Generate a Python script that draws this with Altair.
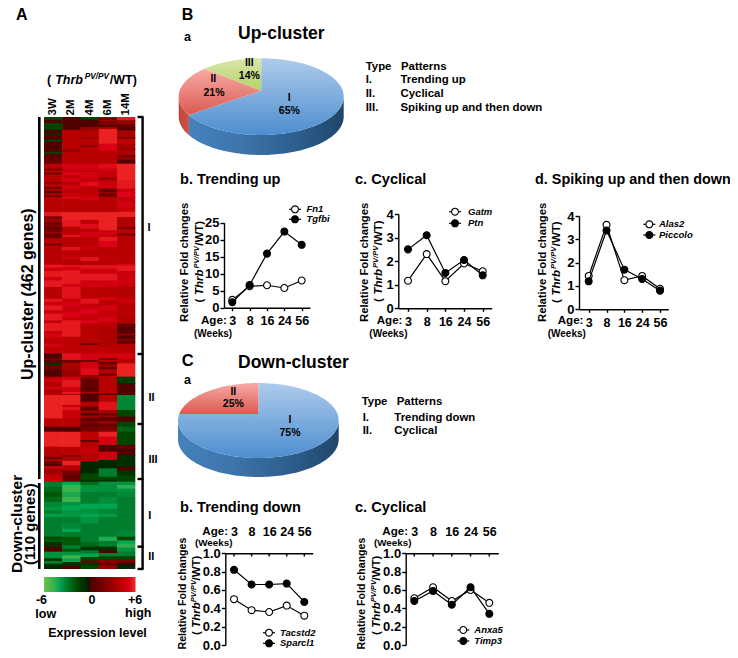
import json, math
import altair as alt
import pandas as pd

# ---------- data ----------
COLUMNS = ["3W", "2M", "4M", "6M", "14M"]
AGES = ["3", "8", "16", "24", "56"]
R3W_ENDS = [8,18,36,40,50,56,68,74,104,110,122,140,155,160,167,172,196,199,210,214,222,228,236,240,285,298,304,316,322,330,336,344,350,358,364,380,385,440,444,452,462,480,490,510,545,555,565,580,590,610,618,630,642,650,660,668,680,690,700,709,725,730,733,738,745,757,779,787,794,810,818,826,834,904,929,944,989,1019,1027,1032,1040,1047,1055,1070,1078,1094,1109,1125,1140,1155,1170,1180,1190,1200,1219,1259,1265,1275,1289,1304,1324,1332,1340,1348,1356]
R3W_VALS = [-1.5,0,-1.5,-1,0,-1,0,-1.5,0,-1.5,0.5,1,4,1.5,4,1,4,1,4,1,3,1,3,1,4,5.6,1.5,3,1,2,1,1.5,3,1,1.5,4,1.5,4,5,5.6,4.8,5.6,4.8,5.6,4,5.5,4.8,5.6,4.5,5.6,4.5,5.6,5.6,4.5,5.2,4.5,4.2,5,4.2,4.5,0,2,0,1,-1,1.5,0,4,5,4,5,3.5,4,5.8,4,0,5.8,4,1.5,4,1.5,0,4.5,3,4.2,4.5,-3,-2.5,-2,-2.5,-3.2,-3.6,-3,-3.8,-3,-3,-1.5,-2,-1,0,-3.5,-1,-3,-1,-0.5]
R2M_ENDS = [38,98,104,140,160,165,175,182,195,205,215,228,240,244,285,309,329,346,354,360,390,400,420,425,444,450,460,500,510,545,555,570,585,600,610,625,659,684,709,729,739,744,757,779,789,810,825,832,834,864,870,880,904,929,944,989,1014,1019,1031,1045,1060,1074,1082,1094,1104,1125,1140,1155,1165,1180,1200,1219,1235,1245,1259,1285,1295,1304,1315,1325,1335,1345,1356]
R2M_VALS = [0,4,2.5,4,5,4,5.3,4.2,5,4,5,4.3,4.6,5.5,4,5.8,5.6,4,4.5,5.5,4,5.5,4.2,5,4,5.5,5,5.6,5,5.5,4.5,5,4.5,5.2,4.5,5.6,5.6,4.2,4.2,5.5,1.5,4,3.5,3,5,5.6,4.8,5.6,2,5.8,4.5,5.5,4.6,4,0,5.8,4,2,3.5,5.8,4,1.5,0.5,1,-4,-4.8,-4.2,-4.8,-3.5,-4,-3.6,-3,-3.3,-4,-3,-2,-3,-2,-3.5,-4.8,-4,-1,0]
R4M_ENDS = [8,30,40,60,65,86,89,100,140,160,165,180,195,208,230,240,250,285,309,320,335,345,360,385,400,420,432,444,455,470,490,500,510,545,560,575,590,610,620,628,679,684,709,729,735,754,774,784,809,824,829,834,854,869,880,888,896,904,912,920,929,944,969,975,989,1009,1034,1069,1089,1094,1104,1125,1140,1160,1175,1190,1200,1219,1259,1275,1289,1300,1310,1320,1330,1336,1345,1356]
R4M_VALS = [-1.5,0,3,4,3,4,0.8,4,4,5,4,5,4.6,5.4,4.2,4.5,5,4,5.8,4,5.4,4.2,5,4,4.5,4,5.5,4,5.5,4.8,5.6,4.8,5,4.2,5.5,4.5,5.3,4.5,5.3,4,4,1,4.2,5,1.5,5,5.4,3,1,0.5,4,0,0,4,0.5,3,0.5,3,0.5,2,0.8,1.5,4.2,1,4,4.5,4,-0.5,-1.5,-1,-2.5,-3.5,-3,-3,-4,-3.5,-4,-3.5,-3,-3,-2.5,-1,-3,-4,-1.5,1.5,-1,-1.5]
R6M_ENDS = [4,8,14,18,22,30,34,36,80,100,104,122,140,155,165,180,190,200,215,225,230,236,240,285,340,345,352,360,372,390,405,430,444,455,470,490,510,520,540,550,565,580,600,615,630,689,709,724,729,735,742,750,757,770,776,790,829,834,854,879,889,895,900,912,920,929,944,959,984,1004,1029,1054,1079,1089,1094,1104,1125,1140,1160,1175,1190,1200,1219,1259,1272,1289,1300,1308,1318,1328,1336,1345,1356]
R6M_VALS = [3,0.5,3,0.5,3,0.5,3,4,5.8,5.2,4.5,4.2,4,5.4,4.8,4.5,3,4.5,4.8,1,3,1,2,4,5.8,4.5,5,4.5,5.6,5.3,4,4.2,4,5.5,4.8,5.6,5,4.2,4,5,4,5,4.4,5.1,4.2,3.7,4.2,5,1,4,1,3,1,4,1,4,4,0.5,4,5.5,3.5,1,3,1,3,1,2,5.8,5,0,4.8,-0.5,-3,-1.5,-1,-3.5,-3.4,-3,-3.4,-4,-3.2,-3.7,-3,-3,-4.3,-3,-1,0,-3,-1.5,2.5,1,3]
R14M_ENDS = [10,12,22,30,36,40,60,65,80,95,97,115,120,128,134,140,190,215,225,240,255,272,284,300,330,336,350,355,440,445,462,470,500,510,530,545,560,600,620,625,631,639,650,655,665,672,680,709,725,739,779,799,819,834,879,899,914,929,944,984,994,1014,1049,1060,1075,1094,1104,1115,1125,1140,1219,1240,1259,1270,1280,1292,1304,1318,1328,1336,1342,1356]
R14M_VALS = [5.6,1.5,3,1,0.5,0,3.5,1.5,4.3,3.5,1.5,3.7,1,3,0.5,0.3,5.8,5.6,4.7,5.3,4.5,5,4.6,5.8,3.8,1.5,4,1,4,5.3,5.6,4.6,4.8,4.5,3.8,4,4.5,4,3.8,0.5,1,0.3,0.5,3,0.3,2,0.5,4,5,4,5.8,-1.2,0,0.3,-3.2,-1.5,0,-1.5,-2.3,-1.5,1,0,-0.8,0,-1,-1.5,-3.5,-4.5,-3.5,-3.3,-3,-3,-3.2,-1.5,-4,-4.5,-3.5,-3,-1.5,2,0,-0.5]
LEFT_BAR_STARTS = [0, 1098]
LEFT_BAR_ENDS = [1086, 1356]
RIGHT_TICKS = [0, 711, 921, 1086, 1289, 1356]
UP_SHARES = [65, 21, 14]
DOWN_SHARES = [75, 25]
Fn1 = [2.3, 6.3, 6.6, 5.8, 8.0]
Tgfbi = [1.6, 6.7, 15.9, 22.4, 18.5]
Gatm = [1.17, 2.3, 1.15, 1.9, 1.57]
Ptn = [2.5, 3.1, 1.5, 2.05, 1.4]
Alas2 = [1.43, 3.62, 1.25, 1.43, 0.88]
Piccolo = [1.2, 3.38, 1.7, 1.3, 0.8]
Tacstd2 = [0.5, 0.38, 0.36, 0.43, 0.32]
Sparcl1 = [0.82, 0.66, 0.66, 0.67, 0.47]
Anxa5 = [0.51, 0.63, 0.48, 0.6, 0.46]
Timp3 = [0.48, 0.59, 0.44, 0.63, 0.34]

# ---------- helpers ----------
FONT = "Liberation Sans"
W, H = 722, 642
layers = []
ONE = alt.Data(values=[{"k": 1}])

def txt(s, x, y, size=11.5, weight="bold", style="normal", align="left", angle=0, baseline="middle"):
    layers.append(alt.Chart(ONE).mark_text(
        text=s, font=FONT, fontSize=size, fontWeight=weight, fontStyle=style,
        align=align, baseline=baseline, angle=angle, color="black"
    ).encode(x=alt.value(x - 8), y=alt.value(y - 8)))

def thrb(x, y, size=12, up=True, widen=1.0):
    pieces = [("( ", size, "normal", 0), ("Thrb", size, "italic", 0),
              ("PV/PV", size * 0.66, "italic", size * 0.26), ("/WT)", size, "normal", 0)]
    adv = [0.62, 2.22, 1.9, 2.17]
    pos = 0.0
    for (s, sz, st, lift), a in zip(pieces, adv):
        if up:
            txt(s, x - lift, y - pos, sz, style=st, angle=270)
        else:
            txt(s, x + pos, y - lift, sz, style=st)
        pos += a * size * widen

# ---------- heat map ----------
cols = [(R3W_ENDS, R3W_VALS), (R2M_ENDS, R2M_VALS), (R4M_ENDS, R4M_VALS), (R6M_ENDS, R6M_VALS), (R14M_ENDS, R14M_VALS)]
rows = []
for c, (ends, vals) in enumerate(cols):
    assert len(ends) == len(vals), (c, len(ends), len(vals))
    prev = 0
    for e, v in zip(ends, vals):
        rows.append({"c0": c, "c1": min(c + 1.03, 5), "r0": prev, "r1": min(e + 2, 1356), "v": v})
        prev = e
heat = pd.DataFrame(rows)
HX0, HX1, HY0, HY1 = 44, 135.3, 117, 569
hx = alt.Scale(domain=[0, 5], range=[HX0 - 8, HX1 - 8], nice=False, zero=False)
hy = alt.Scale(domain=[0, 1356], range=[HY0 - 8, HY1 - 8], nice=False, zero=False)
color_scale = alt.Scale(domain=[-6, -4, 0, 6], range=["#6cc04a", "#00a651", "#000000", "#f02a26"])
layers.append(alt.Chart(heat).mark_rect(strokeWidth=0).encode(
    x=alt.X("c0:Q", scale=hx, axis=None), x2="c1:Q",
    y=alt.Y("r0:Q", scale=hy, axis=None), y2="r1:Q",
    color=alt.Color("v:Q", scale=color_scale, legend=None)))

# colour bar
levels = [-6 + 0.125 * i for i in range(96)]
bar = pd.DataFrame({"lo": levels, "hi": [min(l + 0.25, 6) for l in levels], "mid": [l + 0.0625 for l in levels]})
layers.append(alt.Chart(bar).mark_rect(strokeWidth=0).encode(
    x=alt.X("lo:Q", scale=alt.Scale(domain=[-6, 6], range=[HX0 - 8, HX1 - 8], nice=False, zero=False), axis=None),
    x2="hi:Q", y=alt.value(577 - 8), y2=alt.value(592 - 8),
    color=alt.Color("mid:Q", scale=color_scale, legend=None)))

# brackets
lb = pd.DataFrame({"a": LEFT_BAR_STARTS, "b": LEFT_BAR_ENDS})
layers.append(alt.Chart(lb).mark_rule(strokeWidth=2.6, color="black").encode(
    x=alt.value(39.3 - 8), y=alt.Y("a:Q", scale=hy, axis=None), y2="b:Q"))
rb = pd.DataFrame({"a": [RIGHT_TICKS[0]], "b": [RIGHT_TICKS[-1]]})
layers.append(alt.Chart(rb).mark_rule(strokeWidth=2.4, color="black").encode(
    x=alt.value(142.6 - 8), y=alt.Y("a:Q", scale=hy, axis=None), y2="b:Q"))
rt = pd.DataFrame({"a": RIGHT_TICKS})
layers.append(alt.Chart(rt).mark_rule(strokeWidth=2.4, color="black").encode(
    x=alt.value(137.5 - 8), x2=alt.value(143.5 - 8), y=alt.Y("a:Q", scale=hy, axis=None)))

# ---------- pies ----------
def grad_v(c0, c1):
    return alt.Gradient(gradient="linear", x1=0, x2=0, y1=0, y2=1,
                        stops=[alt.GradientStop(offset=0, color=c0), alt.GradientStop(offset=1, color=c1)])

def grad_h(stops):
    return alt.Gradient(gradient="linear", x1=0, x2=1, y1=0, y2=0,
                        stops=[alt.GradientStop(offset=o, color=c) for o, c in stops])

def pie(shares, fills, sides, x0, x1, top, low, apex_y, depth):
    """Slices seen in perspective: rays leave the apex and end on the rim ellipse."""
    ry = (low - top) / 2
    cy = (top + low) / 2
    ay = apex_y - cy
    sx = alt.Scale(domain=[-1, 1], range=[x0 - 8, x1 - 8], nice=False, zero=False)
    sy = alt.Scale(domain=[-ry, ry + depth], range=[top - 8, low + depth - 8], nice=False, zero=False)

    def rim(deg):
        t = math.radians(deg)
        dx, dy = math.sin(t), -math.cos(t) * ry
        a = dx * dx + (dy / ry) ** 2
        b = 2 * ay * dy / ry ** 2
        c = (ay / ry) ** 2 - 1
        k = (-b + math.sqrt(b * b - 4 * a * c)) / (2 * a)
        return dx * k, ay + dy * k

    def param(p):
        return math.degrees(math.atan2(p[0], -p[1] / ry)) % 360

    def ell(deg):
        t = math.radians(deg)
        return math.sin(t), -math.cos(t) * ry

    def draw(points, fill):
        d = pd.DataFrame({"i": range(len(points)), "x": [p[0] for p in points], "y": [p[1] for p in points]})
        layers.append(alt.Chart(d).mark_line(fill=fill, strokeWidth=0, strokeOpacity=0, interpolate="linear").encode(
            x=alt.X("x:Q", scale=sx, axis=None), y=alt.Y("y:Q", scale=sy, axis=None), order="i:Q"))

    cum = 0
    spans = []
    for s in shares:
        spans.append((cum * 3.6, (cum + s) * 3.6))
        cum += s
    for (a, b), side in zip(spans, sides):
        if side is None:
            continue
        pa = param(rim(a)) if a > 0 else 0.0
        pb = param(rim(b)) if b < 360 else 360.0
        lo, hi = max(pa, 90), min(pb, 270)
        if hi <= lo:
            continue
        n = int((hi - lo) / 2) + 1
        edge = [ell(lo + (hi - lo) * k / n) for k in range(n + 1)]
        draw(edge + [(x, y + depth) for x, y in reversed(edge)], side)
    for (a, b), fill in zip(spans, fills):
        n = int((b - a) / 2) + 1
        draw([(0, ay)] + [rim(a + (b - a) * k / n) for k in range(n + 1)], fill)

BLUE_TOP = grad_v("#aecbeb", "#4d8ecf")
BLUE_SIDE = grad_h([(0, "#4681bd"), (0.35, "#3d74ab"), (0.75, "#2a5a88"), (1, "#1f4669")])
RED_TOP = grad_v("#f7a9a6", "#db5a50")
RED_SIDE = grad_h([(0, "#c0473b"), (1, "#cc5045")])
GREEN_TOP = grad_v("#d9e7a8", "#b4d068")
pie(UP_SHARES, [BLUE_TOP, RED_TOP, GREEN_TOP], [BLUE_SIDE, RED_SIDE, None], 178.7, 343.7, 58.3, 135, 90.7, 20)
pie(DOWN_SHARES, [BLUE_TOP, RED_TOP], [BLUE_SIDE, None], 178, 338.7, 383, 458, 414, 19)

# ---------- line panels ----------
def panel(s1, s2, xa, xe, c0, c4, yb, yt, ymax, yvals, fmt, top_axis=False, ylabel=13, xlabel=12.5):
    step = (c4 - c0) / 4
    sx = alt.Scale(domain=[(xa - c0) / step, (xe - c0) / step], range=[xa - 8, xe - 8], nice=False, zero=False)
    sy = alt.Scale(domain=[0, ymax], range=[yb - 8, yt - 8], nice=False, zero=False)
    common = dict(grid=False, title=None, domainColor="black", domainWidth=1.4, tickColor="black", tickWidth=1.4,
                  labelColor="black", labelFont=FONT, labelFontWeight="bold")
    expr = json.dumps(AGES) + "[datum.value]"
    if top_axis:
        ax_x = alt.Axis(orient="top", offset=-(yt - 8), values=list(range(5)), labelExpr=expr, tickSize=0,
                        labelPadding=15, labelFontSize=xlabel, labelAngle=0, **common)
    else:
        ax_x = alt.Axis(orient="bottom", offset=yb - 8 - H, values=list(range(5)), labelExpr=expr, tickSize=3,
                        labelPadding=4, labelFontSize=xlabel, labelAngle=0, **common)
    ax_y = alt.Axis(orient="left", offset=-(xa - 8), values=yvals, format=fmt, tickSize=4, labelPadding=1,
                    labelFontSize=ylabel, **common)
    for n, (s, fill) in enumerate(zip((s1, s2), ("white", "black"))):
        d = pd.DataFrame({"a": range(5), "v": s})
        layers.append(alt.Chart(d).mark_line(color="black", strokeWidth=1.2).encode(
            x=alt.X("a:Q", scale=sx, axis=ax_x if n == 0 else None),
            y=alt.Y("v:Q", scale=sy, axis=ax_y if n == 0 else None)))
        layers.append(alt.Chart(d).mark_point(filled=True, fill=fill, stroke="black", strokeWidth=1.1, size=48, opacity=1).encode(
            x=alt.X("a:Q", scale=sx, axis=None), y=alt.Y("v:Q", scale=sy, axis=None)))
    if top_axis:
        d = pd.DataFrame({"a": range(5), "u": [ymax] * 5, "w": [ymax * 0.965] * 5})
        layers.append(alt.Chart(d).mark_rule(color="black", strokeWidth=1.4).encode(
            x=alt.X("a:Q", scale=sx, axis=None), y=alt.Y("u:Q", scale=sy, axis=None), y2="w:Q"))

def legend(names, mx, ys, tx):
    for name, y, fill in zip(names, ys, ("white", "black")):
        layers.append(alt.Chart(ONE).mark_rule(color="black", strokeWidth=1.2).encode(
            x=alt.value(mx - 6 - 8), x2=alt.value(mx + 6 - 8), y=alt.value(y - 8)))
        layers.append(alt.Chart(ONE).mark_point(filled=True, fill=fill, stroke="black", strokeWidth=1.1, size=48, opacity=1).encode(
            x=alt.value(mx - 8), y=alt.value(y - 8)))
        txt(name, tx, y, 9.5, style="italic")

panel(Fn1, Tgfbi, 224, 310, 232.3, 301.7, 307.7, 222.7, 25, [0, 5, 10, 15, 20, 25], "d")
panel(Gatm, Ptn, 398.3, 491.7, 408, 482.7, 308.3, 214, 4, [0, 1, 2, 3, 4], "d")
panel(Alas2, Piccolo, 579, 668.3, 588.7, 660, 309.3, 216, 4, [0, 1, 2, 3, 4], "d")
panel(Tacstd2, Sparcl1, 225.3, 312.7, 234, 304.3, 645, 553.3, 1, [0, .2, .4, .6, .8, 1], ".1f", top_axis=True)
panel(Anxa5, Timp3, 405.7, 498.3, 414.3, 489.3, 645, 553.3, 1, [0, .2, .4, .6, .8, 1], ".1f", top_axis=True)
legend(["Fn1", "Tgfbi"], 295, [209.3, 219.3], 306.5)
legend(["Gatm", "Ptn"], 455, [211.7, 223.3], 468)
legend(["Alas2", "Piccolo"], 649.3, [224.3, 235], 659)
legend(["Tacstd2", "Sparcl1"], 269, [632.7, 643.3], 280)
legend(["Anxa5", "Timp3"], 463.3, [630, 641], 474.3)

# ---------- text: panel A ----------
txt("A", 16, 20, 16, baseline="alphabetic")
thrb(47, 80, 12.5, up=False, widen=1.06)
for name, c in zip(COLUMNS, range(5)):
    txt(name, HX0 + (HX1 - HX0) * (c + 0.5) / 5, 115.5, 11.5, angle=270)
txt("Up-cluster (462 genes)", 28, 380, 16, angle=270)
txt("Down-cluster", 16.5, 573, 15.5, angle=270)
txt("(110 genes)", 30, 565, 15, angle=270)
for s, x, y in [("I", 149, 228), ("II", 151.5, 398), ("III", 153, 460), ("I", 149.7, 516), ("II", 151.3, 557)]:
    txt(s, x, y, 11, align="center")
for s, x, y in [("-6", 41.5, 600), ("0", 92, 600), ("+6", 135, 600), ("low", 45.7, 614), ("high", 138.3, 613)]:
    txt(s, x, y, 12.5, align="center")
txt("Expression level", 97.5, 632.7, 12.5, align="center")

# ---------- text: panel B ----------
txt("B", 181.7, 20, 16, baseline="alphabetic")
txt("a", 184, 36.7, 12.5)
txt("Up-cluster", 238, 34, 17.5)
for s, x, y in [("Type", 365.7, 66.7), ("Patterns", 401, 66.7), ("I.", 365.7, 80.3), ("Trending up", 400.5, 80.3),
                ("II.", 365.7, 94), ("Cyclical", 400.5, 94), ("III.", 365.7, 107.7), ("Spiking up and then down", 400.5, 107.7)]:
    txt(s, x, y, 11.4)
for s, x, y in [("I", 289.3, 98.3), ("65%", 289.3, 111), ("II", 213.3, 79.3), ("21%", 214, 92.7), ("III", 249.3, 62.7), ("14%", 249.3, 75.7)]:
    txt(s, x, y, 10.5, align="center")
txt("b. Trending up", 180, 180, 14.6)
txt("c. Cyclical", 355, 180, 14.6)
txt("d. Spiking up and then down", 535, 180, 14.4)
for x1, x2, sp in [(185, 200, 302.5), (365, 379, 302), (543, 556.7, 303)]:
    txt("Relative Fold changes", x1, 322, 11.3, angle=270)
    thrb(x2, sp, 11.5, widen=1.04)
for ax, wx in [(201, 194), (376.7, 369.3), (557.7, 547.7)]:
    txt("Age:", ax, 321.3, 11.6)
    txt("(Weeks)", wx, 333.7, 10)

# ---------- text: panel C ----------
txt("C", 181.7, 366, 16.5, baseline="alphabetic")
txt("a", 184, 380, 12.5)
txt("Down-cluster", 238, 363, 17.5)
for s, x, y in [("Type", 361.7, 402.3), ("Patterns", 396.7, 402.3), ("I.", 362.7, 417.7), ("Trending down", 394.3, 417.7),
                ("II.", 362.7, 431), ("Cyclical", 394.3, 431)]:
    txt(s, x, y, 11.4)
for s, x, y in [("II", 233.3, 391.7), ("25%", 233.3, 404.3), ("I", 290, 420), ("75%", 290, 432.7)]:
    txt(s, x, y, 10.5, align="center")
txt("b. Trending down", 180, 508.3, 14.6)
txt("c. Cyclical", 355, 508.3, 14.6)
for x1, x2 in [(182.7, 197.3), (362.3, 376.7)]:
    txt("Relative Fold changes", x1, 649.5, 10.6, angle=270)
    thrb(x2, 635, 11.5, widen=1.0)
for ax, wx in [(202.3, 195), (382.3, 374)]:
    txt("Age:", ax, 531.5, 11.6)
    txt("(Weeks)", wx, 543, 9.8)

chart = alt.layer(*layers).resolve_scale(x="independent", y="independent", color="independent").properties(
    width=W, height=H, autosize=alt.AutoSizeParams(type="none"), padding=0
).configure_view(strokeWidth=0)
chart.save("out.html", embed_options={"renderer": "svg", "actions": False})
